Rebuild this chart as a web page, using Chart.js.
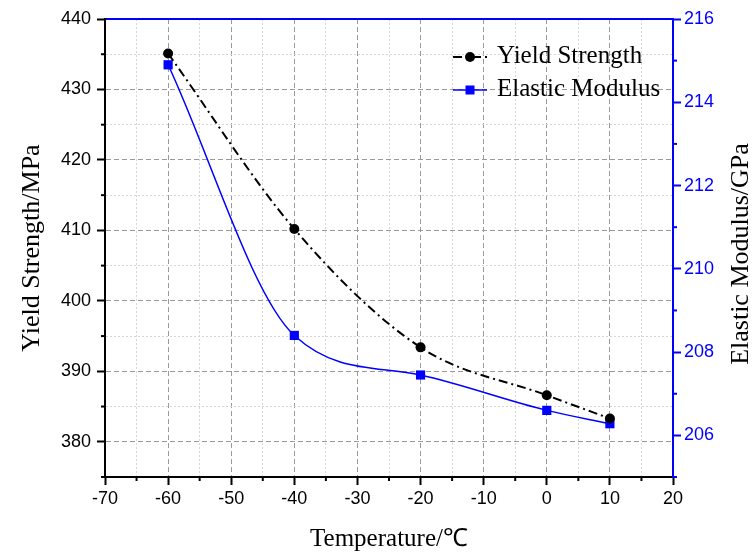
<!DOCTYPE html>
<html>
<head>
<meta charset="utf-8">
<script src="https://cdn.jsdelivr.net/npm/chart.js@4/dist/chart.umd.min.js"></script>
<style>
  body { margin: 0; background: #fff; }
  #wrap { width: 753px; height: 559px; position: relative; }
</style>
</head>
<body>
<div id="wrap"><canvas id="chart"></canvas></div>
<script>
// data
const temperatures = [-60, -40, -20, 0, 10];
const yieldStrength = [435.1, 410.2, 393.4, 386.6, 383.3];
const elasticModulus = [214.9, 208.4, 207.45, 206.6, 206.28];
const seriesNames = ["Yield Strength", "Elastic Modulus"];
const axisTitles = { x: "Temperature/\u2103", y: "Yield Strength/MPa", y2: "Elastic Modulus/GPa" };

const SERIF = "'Liberation Serif', 'Times New Roman', serif";
const SANS = "'Liberation Sans', Arial, sans-serif";
const BLUE = "#0000ff";

function toPoints(xs, ys) {
    return xs.map((x, i) => ({ x: x, y: ys[i] }));
}

// major grid lines dashed and darker, minor dotted and lighter
function gridColor(step) {
    return ctx => (ctx.tick && ctx.tick.value % step === 0) ? "#9a9a9a" : "#d6d6d6";
}
function gridDash(step) {
    return ctx => (ctx.tick && ctx.tick.value % step === 0) ? [5, 3] : [2, 2];
}
function majorTick(step, color) {
    return ctx => (ctx.tick && ctx.tick.value % step === 0) ? color : "rgba(0,0,0,0)";
}

const overlay = {
    id: "overlay",
    afterDraw(chart) {
        const c = chart.ctx;
        const area = chart.chartArea;
        c.save();

        // short minor ticks, pointing outward
        [["x", 10, "#000"], ["y", 10, "#000"], ["y2", 2, BLUE]].forEach(([id, step, color]) => {
            const s = chart.scales[id];
            c.strokeStyle = color;
            c.lineWidth = 2;
            s.ticks.forEach(t => {
                if (t.value % step === 0) return;
                const p = s.getPixelForValue(t.value);
                c.beginPath();
                if (id === "x") { c.moveTo(p, area.bottom); c.lineTo(p, area.bottom + 4); }
                else if (id === "y") { c.moveTo(area.left, p); c.lineTo(area.left - 4, p); }
                else { c.moveTo(area.right, p); c.lineTo(area.right + 4, p); }
                c.stroke();
            });
        });

        // legend inside the plot, top right
        const lx = area.right - 220;
        const rows = [
            { name: seriesNames[0], color: "#000", dash: [9, 4, 2, 4], y: area.top + 38, shape: "circle" },
            { name: seriesNames[1], color: BLUE, dash: [], y: area.top + 71, shape: "rect" }
        ];
        rows.forEach(r => {
            c.strokeStyle = r.color;
            c.fillStyle = r.color;
            c.lineWidth = r.shape === "circle" ? 2 : 1.5;
            c.setLineDash(r.dash);
            c.beginPath();
            c.moveTo(lx, r.y);
            c.lineTo(lx + 34, r.y);
            c.stroke();
            c.setLineDash([]);
            if (r.shape === "circle") {
                c.beginPath();
                c.arc(lx + 17, r.y, 5, 0, Math.PI * 2);
                c.fill();
            } else {
                c.fillRect(lx + 12.5, r.y - 4.5, 9, 9);
            }
            c.fillStyle = "#000";
            c.font = "25px " + SERIF;
            c.textBaseline = "middle";
            c.textAlign = "left";
            c.fillText(r.name, lx + 44, r.y - 1);
        });

        // right axis title, reading bottom to top
        c.translate(741, (area.top + area.bottom) / 2 + 6);
        c.rotate(-Math.PI / 2);
        c.font = "26px " + SERIF;
        c.fillStyle = "#000";
        c.textAlign = "center";
        c.textBaseline = "middle";
        c.fillText(axisTitles.y2, 0, 0);
        c.restore();
    }
};

new Chart(document.getElementById("chart"), {
    type: "line",
    data: {
        datasets: [
            {
                label: seriesNames[0],
                data: toPoints(temperatures, yieldStrength),
                yAxisID: "y",
                borderColor: "#000",
                backgroundColor: "#000",
                borderWidth: 2,
                borderDash: [9, 4, 2, 4],
                cubicInterpolationMode: "monotone",
                pointStyle: "circle",
                pointRadius: 5,
                pointBorderWidth: 0
            },
            {
                label: seriesNames[1],
                data: toPoints(temperatures, elasticModulus),
                yAxisID: "y2",
                borderColor: BLUE,
                backgroundColor: BLUE,
                borderWidth: 1.5,
                cubicInterpolationMode: "monotone",
                pointStyle: "rect",
                pointRadius: 6.5,
                pointBorderWidth: 0
            }
        ]
    },
    options: {
        responsive: true,
        maintainAspectRatio: false,
        animation: false,
        layout: { padding: 0 },
        plugins: {
            legend: { display: false },
            tooltip: { enabled: false }
        },
        scales: {
            x: {
                type: "linear",
                position: "bottom",
                min: -70,
                max: 20,
                afterFit: s => { s.height = 82; },
                ticks: {
                    stepSize: 5,
                    autoSkip: false,
                    maxRotation: 0,
                    padding: 3,
                    color: "#000",
                    font: { family: SANS, size: 18 },
                    callback: v => (v % 10 === 0 ? v : "")
                },
                grid: {
                    color: gridColor(10),
                    lineWidth: 1,
                    tickLength: 8,
                    tickWidth: 2,
                    tickColor: majorTick(10, "#000")
                },
                border: { color: "#000", width: 2, dash: gridDash(10) },
                title: {
                    display: true,
                    text: axisTitles.x,
                    color: "#000",
                    font: { family: SERIF, size: 25 },
                    padding: { top: 0, bottom: 5 }
                }
            },
            xTop: {
                type: "linear",
                position: "top",
                min: -70,
                max: 20,
                afterFit: s => { s.height = 19; },
                ticks: { display: false },
                grid: { drawOnChartArea: false, drawTicks: false },
                border: { color: BLUE, width: 2 }
            },
            y: {
                type: "linear",
                position: "left",
                min: 375,
                max: 440,
                afterFit: s => { s.width = 105; },
                ticks: {
                    stepSize: 5,
                    autoSkip: false,
                    padding: 6,
                    color: "#000",
                    font: { family: SANS, size: 18 },
                    callback: v => (v % 10 === 0 ? v : "")
                },
                grid: {
                    color: gridColor(10),
                    lineWidth: 1,
                    tickLength: 8,
                    tickWidth: 2,
                    tickColor: majorTick(10, "#000")
                },
                border: { color: "#000", width: 2, dash: gridDash(10) },
                title: {
                    display: true,
                    text: axisTitles.y,
                    color: "#000",
                    font: { family: SERIF, size: 26 },
                    padding: { top: 17, bottom: 0 }
                }
            },
            y2: {
                type: "linear",
                position: "right",
                min: 205,
                max: 216,
                afterFit: s => { s.width = 80; },
                ticks: {
                    stepSize: 1,
                    autoSkip: false,
                    padding: 3,
                    color: BLUE,
                    font: { family: SANS, size: 18 },
                    callback: v => (v % 2 === 0 ? v : "")
                },
                grid: {
                    drawOnChartArea: false,
                    tickLength: 8,
                    tickWidth: 2,
                    tickColor: majorTick(2, BLUE)
                },
                border: { color: BLUE, width: 2 }
            }
        }
    },
    plugins: [overlay]
});
</script>
</body>
</html>
